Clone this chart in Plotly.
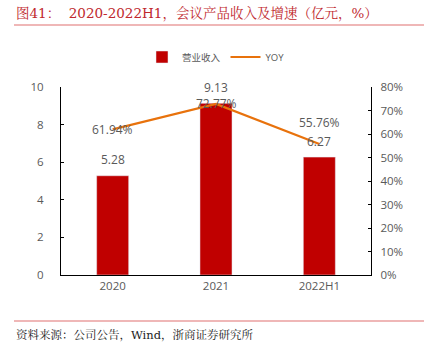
import plotly.graph_objects as go

categories = ["2020", "2021", "2022H1"]
revenue = [5.28, 9.13, 6.27]
yoy = [0.6194, 0.7277, 0.5576]
revenue_labels = ["5.28", "9.13", "6.27"]
yoy_labels = ["61.94%", "72.77%", "55.76%"]

BAR_C = "#C00000"
LINE_C = "#E8720C"
TXT = "#595959"
FONT = "Open Sans, Noto Sans CJK SC, sans-serif"
SERIF = "DejaVu Serif, Noto Serif CJK SC, Noto Sans CJK SC, serif"

fig = go.Figure()
fig.add_trace(go.Bar(x=categories, y=revenue, name="营业收入", marker_color=BAR_C,
                     width=0.31, yaxis="y"))
fig.add_trace(go.Scatter(x=categories, y=yoy, name="YOY", mode="lines",
                         line=dict(color=LINE_C, width=2.2), yaxis="y2"))

ann = []
# category axis: annotation x given as category index
for i, (v, t) in enumerate(zip(revenue, revenue_labels)):
    ann.append(dict(x=i, y=v, xref="x", yref="y", text=t, showarrow=False,
                    yshift=16, font=dict(size=12, color=TXT, family=FONT)))
yshifts = [0, 0, 21]
for i, (v, t, s) in enumerate(zip(yoy, yoy_labels, yshifts)):
    ann.append(dict(x=i, y=v, xref="x", yref="y2", text=t, showarrow=False,
                    yshift=s, font=dict(size=12, color=TXT, family=FONT)))

W, H = 431, 356
ml, mr, mt, mb = 61, 60, 87, 81
pw, ph = W - ml - mr, H - mt - mb

def px2paper(px, py):
    return (px - ml) / pw, 1 - (py - mt) / ph

tx, ty = px2paper(14, 13)
ann.append(dict(x=tx, y=ty, xref="paper", yref="paper",
                text="图41：  2020-2022H1，会议产品收入及增速（亿元，%）",
                showarrow=False, xanchor="left", yanchor="middle",
                font=dict(size=13.5, color="#C0282D", family=SERIF)))
sx, sy = px2paper(14, 335)
ann.append(dict(x=sx, y=sy, xref="paper", yref="paper",
                text="资料来源：公司公告，Wind，浙商证券研究所",
                showarrow=False, xanchor="left", yanchor="middle",
                font=dict(size=11.5, color="#222222", family=SERIF)))

shapes = []
for py in (25, 321):
    x0, yy = px2paper(14, py)
    x1, _ = px2paper(424, py)
    shapes.append(dict(type="line", xref="paper", yref="paper",
                       x0=x0, x1=x1, y0=yy, y1=yy,
                       line=dict(color="#E07070", width=1.2)))

fig.update_layout(
    width=W, height=H,
    margin=dict(l=ml, r=mr, t=mt, b=mb, autoexpand=False),
    paper_bgcolor="white", plot_bgcolor="white",
    font=dict(family=FONT, size=11.5, color=TXT),
    showlegend=True,
    legend=dict(orientation="h", x=0.5, xanchor="center", y=px2paper(0, 57)[1], yanchor="middle",
                font=dict(size=9.5, color=TXT)),
    xaxis=dict(type="category", range=[-0.5, 2.5], showline=True, linecolor="#000000",
               linewidth=1.2, ticks="", showgrid=False, automargin=False,
               tickfont=dict(size=11.5, color=TXT)),
    yaxis=dict(range=[0, 10], dtick=2, showline=True, linecolor="#000000", linewidth=1.2,
               ticks="inside", ticklen=3, tickcolor="#000000", showgrid=False, zeroline=False,
               automargin=False, tickfont=dict(size=11.5, color=TXT), ticklabelstandoff=14),
    yaxis2=dict(range=[0, 0.8], dtick=0.1, tickformat=".0%", overlaying="y", side="right",
                showline=True, linecolor="#000000", linewidth=1.2, ticks="inside", ticklen=3,
                tickcolor="#000000", showgrid=False, zeroline=False, automargin=False,
                tickfont=dict(size=11.5, color=TXT), ticklabelstandoff=6),
    annotations=ann, shapes=shapes,
)

fig.write_html("out.html", config={"displayModeBar": False},
               post_script="document.body.style.margin='0';")
